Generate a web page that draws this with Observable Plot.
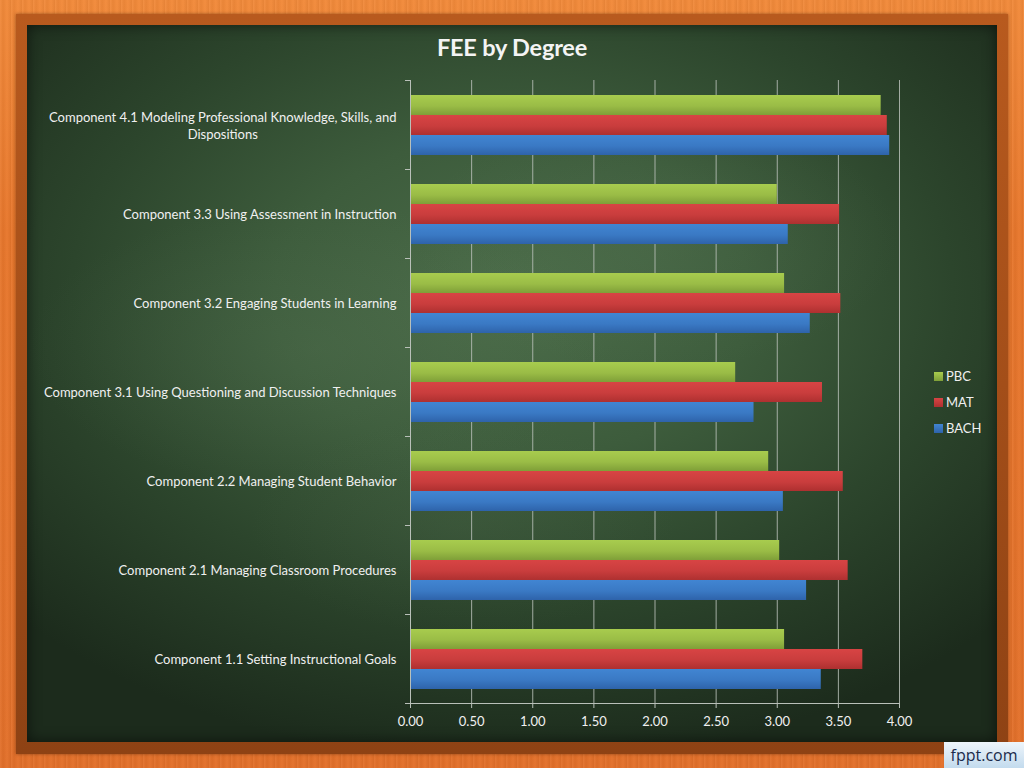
<!DOCTYPE html>
<html>
<head>
<meta charset="utf-8">
<script src="https://cdn.jsdelivr.net/npm/d3@7"></script>
<script src="https://cdn.jsdelivr.net/npm/@observablehq/plot@0.6"></script>
<style>
  html, body { margin: 0; padding: 0; }
  #page { position: relative; width: 1024px; height: 768px; overflow: hidden;
    background:
      repeating-linear-gradient(90deg, rgba(255,255,255,0.05) 0px, rgba(0,0,0,0.04) 3px, rgba(255,255,255,0.03) 7px, rgba(0,0,0,0.05) 11px),
      linear-gradient(180deg, #f28a3a 0%, #e8772c 30%, #e3702a 100%);
    font-family: Lato, "Open Sans", sans-serif; }
  #bevel { position: absolute; left: 16px; top: 14px; width: 992px; height: 740px;
    background: linear-gradient(180deg, #b85a1e, #8e4214); box-shadow: 0 0 3px rgba(90,40,10,0.6); }
  #board { position: absolute; left: 27px; top: 25px; width: 970px; height: 717px;
    background:
      radial-gradient(ellipse 30% 20% at 30% 45%, rgba(90,120,88,0.25), rgba(0,0,0,0) 100%),
      radial-gradient(ellipse 25% 18% at 65% 30%, rgba(95,125,92,0.22), rgba(0,0,0,0) 100%),
      radial-gradient(ellipse 22% 15% at 45% 70%, rgba(85,110,82,0.18), rgba(0,0,0,0) 100%),
      radial-gradient(ellipse 70% 65% at 50% 38%, #4b6c49 0%, #3d5c3c 35%, #2c452c 65%, #1c2b1c 100%);
    box-shadow: inset 0 0 14px rgba(0,0,0,0.55); }
  #title { position: absolute; left: 0; width: 1024px; top: 32px; text-align: center;
    color: #f4f4f4; font-weight: bold; font-size: 23.5px; letter-spacing: -0.2px; line-height: 30px; }
  #chart { position: absolute; left: 0; top: 0; }
  #legend { position: absolute; left: 934px; top: 363px; color: #f0f0f0; font-size: 13px; }
  #legend .item { height: 26px; display: flex; align-items: center; }
  #legend .sw { width: 9px; height: 9px; margin-right: 3px; }
  #fppt { position: absolute; left: 944px; top: 742px; width: 80px; height: 26px;
    background: linear-gradient(180deg, #eef5fb, #c3dbee); color: #1b2b4b;
    font-family: "Open Sans", sans-serif; font-size: 16px; line-height: 26px; text-align: center; white-space: nowrap; }
</style>
</head>
<body>
<div id="page">
  <div id="bevel"></div>
  <div id="board"></div>
  <div id="title">FEE by Degree</div>
  <div id="chart"></div>
  <div id="legend"></div>
  <div id="fppt">fppt.com</div>
</div>
<script>
// ---- data ----
const categories = [
  "Component 4.1 Modeling Professional Knowledge, Skills, and\nDispositions",
  "Component 3.3 Using Assessment in Instruction",
  "Component 3.2 Engaging Students in Learning",
  "Component 3.1 Using Questioning and Discussion Techniques",
  "Component 2.2 Managing Student Behavior",
  "Component 2.1 Managing Classroom Procedures",
  "Component 1.1 Setting Instructional Goals"
];
const seriesNames = ["PBC", "MAT", "BACH"];
const pbcValues  = [3.85, 3.00, 3.06, 2.66, 2.93, 3.02, 3.06];
const matValues  = [3.90, 3.51, 3.52, 3.37, 3.54, 3.58, 3.70];
const bachValues = [3.92, 3.09, 3.27, 2.81, 3.05, 3.24, 3.36];
const xTicks = [0, 0.5, 1, 1.5, 2, 2.5, 3, 3.5, 4];
const seriesColors = {PBC: ["#a8cc4e", "#7f9f38"], MAT: ["#d84444", "#ae3030"], BACH: ["#4185d2", "#2e63aa"]};

const valuesBySeries = {PBC: pbcValues, MAT: matValues, BACH: bachValues};
const rows = seriesNames.flatMap(s => categories.map((c, i) => ({category: c, series: s, value: valuesBySeries[s][i]})));

const W = 1024, H = 768, mTop = 80, mBottom = 65, mLeft = 410, mRight = 125;
const nCat = categories.length;
const padInner = 0.326;
const step = (H - mTop - mBottom) / nCat;
const bw = step * (1 - padInner);
const barH = bw / seriesNames.length;
const axisColor = "#b9c0b9";
const textColor = "#f0f0f0";
const fontSize = 13;
const labelFont = `${fontSize}px Lato`;

// measure first line of multi-line labels for centered wrapping
const ctx = document.createElement("canvas").getContext("2d");
ctx.font = labelFont;
const multi = categories.filter(c => c.includes("\n"));
const single = categories.filter(c => !c.includes("\n"));

function yBoundaryTicks(index, scales, values, dimensions) {
  const {marginTop, marginBottom, marginLeft, height} = dimensions;
  const s = (height - marginTop - marginBottom) / nCat;
  const g = d3.create("svg:g");
  for (let i = 0; i <= nCat; i++) {
    const y = marginTop + i * s + 0.5;
    g.append("line").attr("x1", marginLeft - 5).attr("x2", marginLeft).attr("y1", y).attr("y2", y)
      .attr("stroke", axisColor).attr("stroke-width", 1);
  }
  return g.node();
}

const barMarks = seriesNames.map((s, k) =>
  Plot.barX(rows.filter(r => r.series === s), {
    x: "value", y: "category", fill: `url(#grad-${s})`,
    insetTop: k * barH, insetBottom: (seriesNames.length - 1 - k) * barH
  })
);

const chart = Plot.plot({
  width: W, height: H,
  marginTop: mTop, marginBottom: mBottom, marginLeft: mLeft, marginRight: mRight,
  style: {background: "transparent", color: textColor, fontFamily: "Lato, sans-serif", fontSize: `${fontSize}px`, overflow: "visible"},
  x: {domain: [0, 4], axis: null},
  y: {domain: categories, paddingInner: padInner, paddingOuter: padInner / 2, axis: null},
  marks: [
    Plot.gridX(xTicks, {stroke: axisColor, strokeOpacity: 0.85, strokeWidth: 1}),
    ...barMarks,
    Plot.ruleX([0], {stroke: axisColor}),
    Plot.frame({anchor: "bottom", stroke: axisColor}),
    Plot.axisX(xTicks, {tickFormat: d3.format(".2f"), tickSize: 5, stroke: axisColor, fill: textColor, tickPadding: 8, fontSize: fontSize}),
    yBoundaryTicks,
    Plot.text(single, {y: d => d, text: d => d, frameAnchor: "left", dx: -14, textAnchor: "end", fill: textColor, fontSize: fontSize}),
    Plot.text(multi, {y: d => d, text: d => d, frameAnchor: "left",
      dx: -14 - ctx.measureText(multi[0].split("\n")[0]).width / 2, textAnchor: "middle", lineHeight: 1.3, fill: textColor, fontSize: fontSize})
  ]
});

// gradient defs for bars
const defs = d3.select(chart).insert("defs", ":first-child");
for (const s of seriesNames) {
  const lg = defs.append("linearGradient").attr("id", `grad-${s}`).attr("x1", 0).attr("y1", 0).attr("x2", 0).attr("y2", 1);
  lg.append("stop").attr("offset", "0%").attr("stop-color", seriesColors[s][0]);
  lg.append("stop").attr("offset", "55%").attr("stop-color", d3.interpolateRgb(seriesColors[s][0], seriesColors[s][1])(0.35));
  lg.append("stop").attr("offset", "100%").attr("stop-color", seriesColors[s][1]);
}
document.getElementById("chart").appendChild(chart);

// legend
const legend = d3.select("#legend");
for (const s of seriesNames) {
  const it = legend.append("div").attr("class", "item");
  it.append("div").attr("class", "sw").style("background", `linear-gradient(180deg, ${seriesColors[s][0]}, ${seriesColors[s][1]})`);
  it.append("span").text(s);
}
</script>
</body>
</html>
